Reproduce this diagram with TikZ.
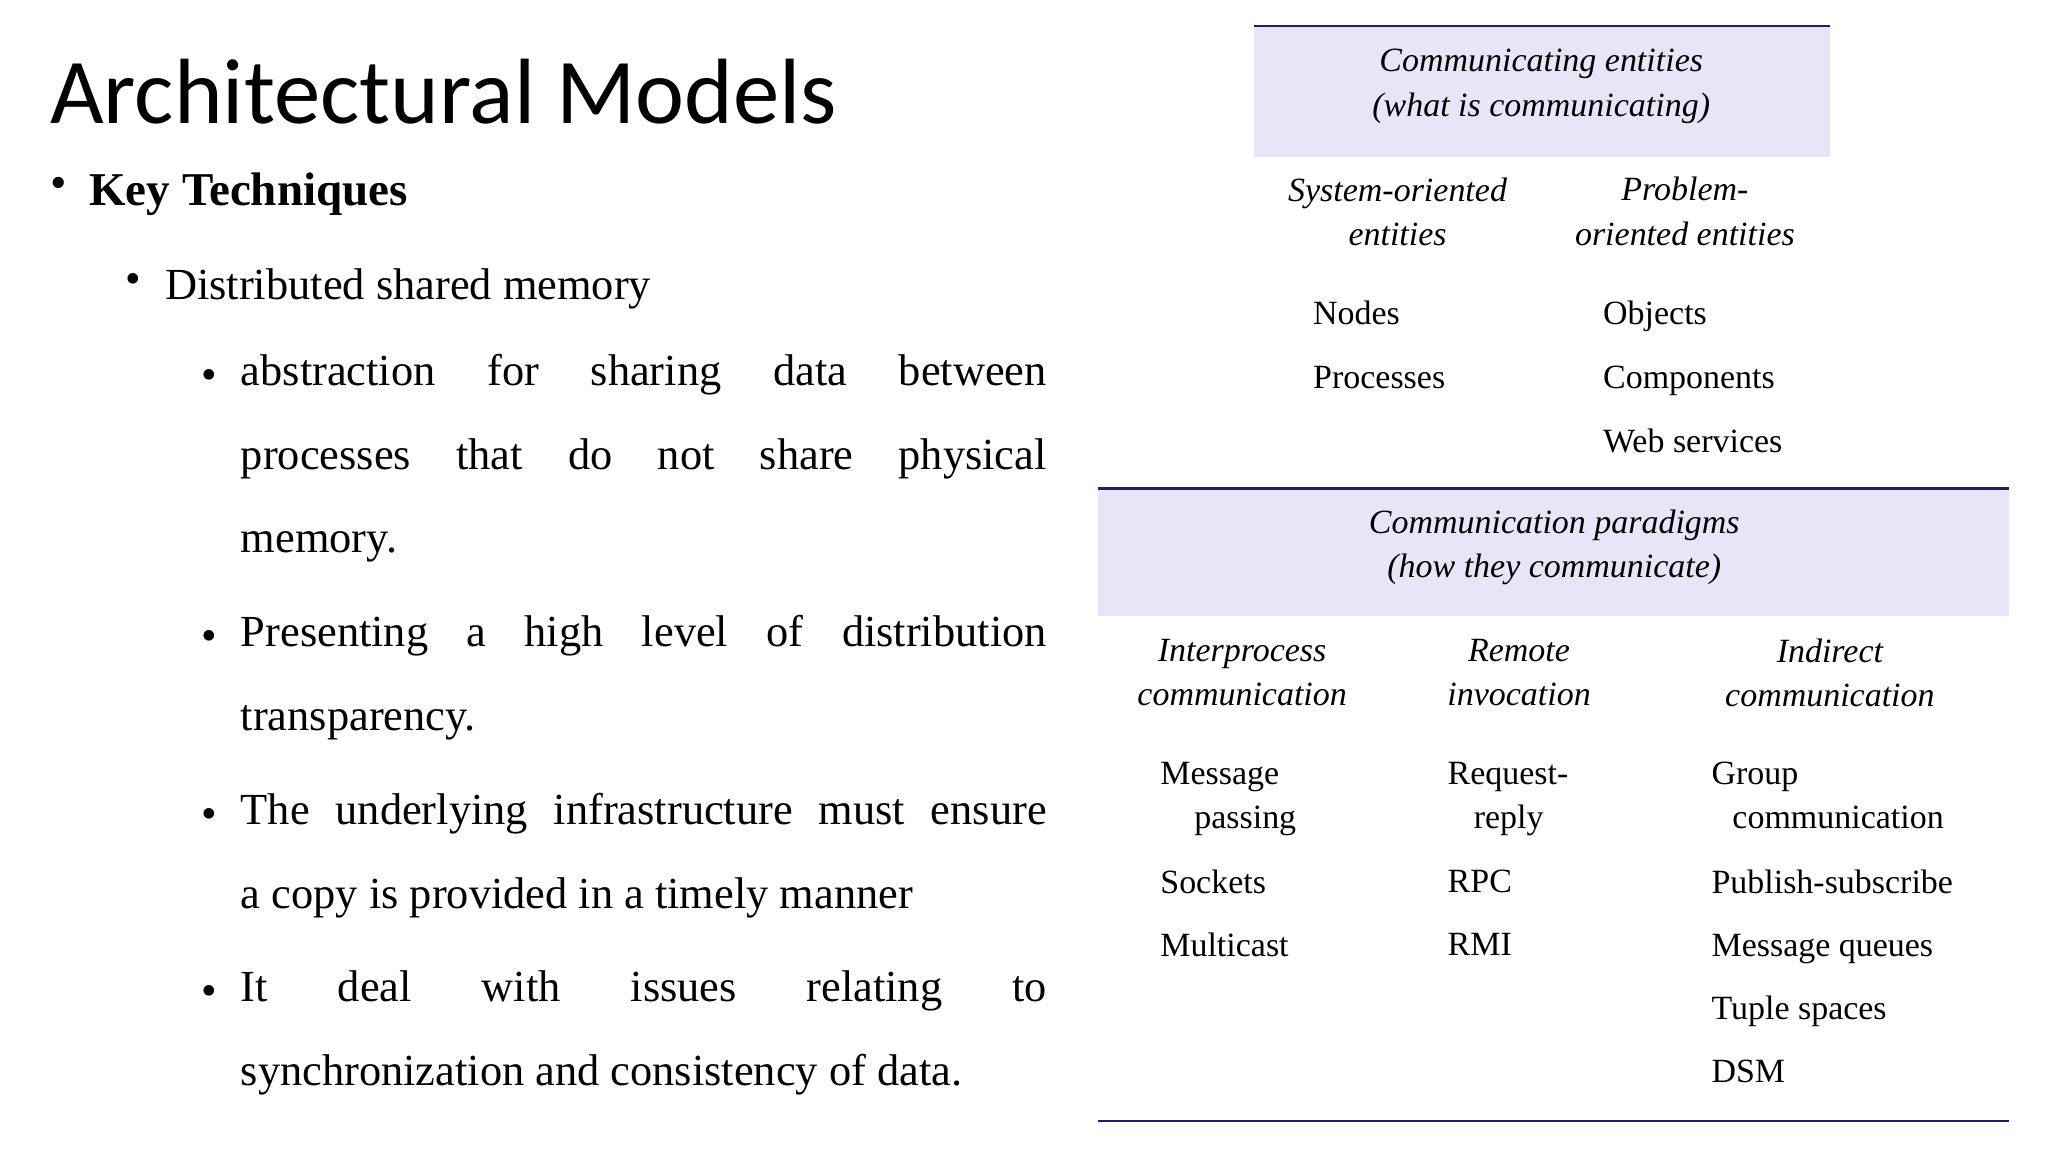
\documentclass[tikz,border=0pt]{standalone}
\usepackage{fontspec}
\setmainfont{Liberation Serif}
\newfontfamily\titlefont{Carlito}
\definecolor{band}{HTML}{E6E6F8}
\definecolor{navy}{HTML}{1F1F5C}
\hyphenpenalty=10000
\begin{document}
\begin{tikzpicture}[x=0.5pt,y=-0.5pt]
\tikzset{tb/.style={font=\itshape\fontsize{13}{17}\selectfont,inner sep=0pt,align=center},
 tl/.style={font=\fontsize{13}{17}\selectfont,inner sep=0pt,anchor=north west,align=left},
 rule/.style={navy,line width=0.8pt},
 bul/.style={inner sep=0pt,anchor=base}}
\useasboundingbox (0,0) rectangle (1568,882);
\node[anchor=west,inner sep=0pt,font=\titlefont\fontsize{35.5}{40}\selectfont] (title) at (38,70) {Architectural Models};
\node[bul,font=\fontsize{18}{17}\selectfont] (b1) at (45,152) {•};
\node[inner sep=0pt,anchor=base west,font=\bfseries\fontsize{18}{22}\selectfont] (kt) at (68,157) {Key Techniques};
\node[bul,font=\fontsize{17}{17}\selectfont] (b2) at (102,225) {•};
\node[inner sep=0pt,anchor=base west,font=\fontsize{17}{22}\selectfont] (dsm) at (126,229) {Distributed shared memory};
\foreach \y/\n in {298/p1,498/p2,634/p3,770/p4}{\node[bul,font=\fontsize{17}{17}\selectfont] (\n) at (160,\y) {•};}
\tikzset{para/.style={inner sep=0pt,anchor=north west,text width=308.5pt,align=justify,font=\fontsize{17}{32}\selectfont}}
\node[para] (t1) at (184,271) {abstraction for sharing data between\linebreak processes that do not share physical\linebreak memory.};
\node[para] (t2) at (184,471) {Presenting a high level of distribution\linebreak transparency.};
\node[para] (t3) at (184,607) {The underlying infrastructure must ensure\linebreak a copy is provided in a timely manner};
\node[para] (t4) at (184,743) {It deal with issues relating to\linebreak synchronization and consistency of data.};
% table
\fill[band] (960,20) rectangle (1401,120);
\draw[rule] (960,20) -- (1401,20);
\fill[band] (841,374) rectangle (1538,472);
\draw[rule] (841,374) -- (1538,374);
\draw[rule] (841,858) -- (1538,858);
\node[tb] (ce) at (1180,66) {Communicating entities\\(what is communicating)};
\node[tb] (so) at (1070,162) {System-oriented\\entities};
\node[tb] (po) at (1290,162) {Problem-\\oriented entities};
\node[tl,font=\fontsize{13}{24.5}\selectfont] (l1) at (1005,230) {Nodes\\Processes};
\node[tl,font=\fontsize{13}{24.5}\selectfont] (l2) at (1227,230) {Objects\\Components\\Web services};
\node[tb] (cp) at (1190,419) {Communication paradigms\\(how they communicate)};
\node[tb] (ip) at (951,515) {Interprocess\\communication};
\node[tb] (ri) at (1163,515) {Remote\\invocation};
\node[tb] (ic) at (1401,515) {Indirect\\communication};
\node[tl] (m1) at (888,583) {Message\\\hspace*{13pt}passing};
\node[tl] (m2) at (888,666) {Sockets};
\node[tl] (m3) at (888,714) {Multicast};
\node[tl] (r1) at (1108,583) {Request-\\\hspace*{10pt}reply};
\node[tl] (r2) at (1108,666) {RPC};
\node[tl] (r3) at (1108,714) {RMI};
\node[tl] (g1) at (1310,583) {Group\\\hspace*{8pt}communication};
\node[tl,font=\fontsize{13}{24}\selectfont] (g2) at (1310,666) {Publish-subscribe\\Message queues\\Tuple spaces\\DSM};
\end{tikzpicture}
\end{document}
